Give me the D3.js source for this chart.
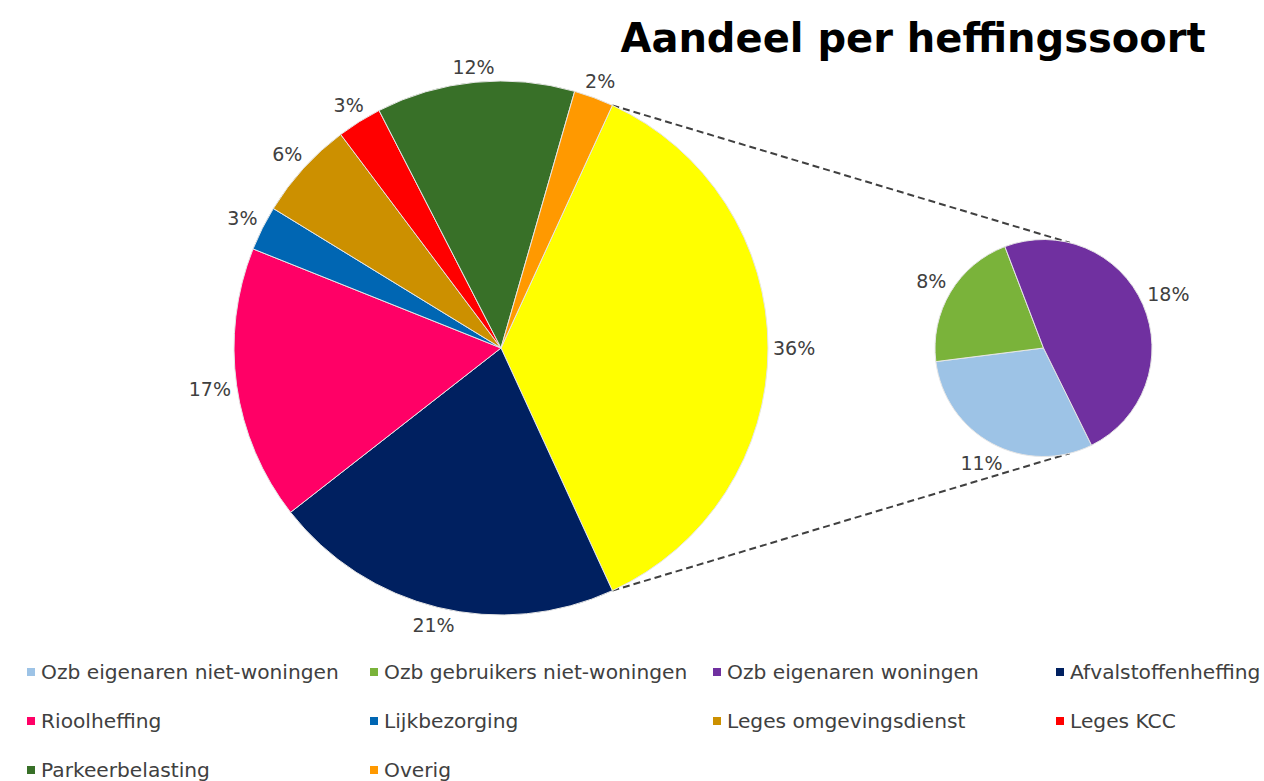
<!DOCTYPE html>
<html>
<head>
<meta charset="utf-8">
<script src="https://cdn.jsdelivr.net/npm/d3@7"></script>
<style>
  body { margin: 0; background: #fff; }
  svg text { font-family: "DejaVu Sans", Verdana, sans-serif; }
</style>
</head>
<body>
<div id="chart"></div>
<script>
const categories = ["Ozb eigenaren niet-woningen", "Ozb gebruikers niet-woningen", "Ozb eigenaren woningen",
    "Afvalstoffenheffing", "Rioolheffing", "Lijkbezorging", "Leges omgevingsdienst", "Leges KCC",
    "Parkeerbelasting", "Overig"];
const shares = [11.0, 7.7, 17.6, 21.3, 16.6, 2.7, 6.0, 2.7, 12.0, 2.4];
const colors = ["#9dc3e6", "#7ab33a", "#7030a0", "#002060", "#ff0066", "#0066b3", "#cc9000", "#ff0000", "#387028", "#ff9900"];
const otherColor = "#ffff00";
const splitCount = 3; // first three go into the small pie
const title = "Aandeel per heffingssoort";

const width = 1264;
const height = 781;
const mainCenter = [501, 348], mainRadius = 267;
const subCenter = [1043.5, 348], subRadius = 108.5;
const subStart = 153.7 * Math.PI / 180;
const connectorAngle = 14 * Math.PI / 180;
const labelSize = 19;

const svg = d3.select("#chart")
    .append("svg")
    .attr("width", width)
    .attr("height", height);

const items = categories.map((name, i) => ({ name: name, value: shares[i], color: colors[i] }));
const subItems = items.slice(0, splitCount);
const otherValue = d3.sum(subItems, d => d.value);
const mainItems = [{ name: "Ozb", value: otherValue, color: otherColor }].concat(items.slice(splitCount));
const total = d3.sum(items, d => d.value);

const otherAngle = otherValue / total * 2 * Math.PI;
const mainStart = Math.PI / 2 - otherAngle / 2;

const mainPie = d3.pie().sort(null).value(d => d.value)
    .startAngle(mainStart).endAngle(mainStart + 2 * Math.PI);
const subPie = d3.pie().sort(null).value(d => d.value)
    .startAngle(subStart).endAngle(subStart + 2 * Math.PI);

const mainArcs = mainPie(mainItems);
const subArcs = subPie(subItems);

// dashed connectors between the "other" slice and the small pie
const connectors = [
    [d3.pointRadial(mainArcs[0].startAngle, mainRadius), d3.pointRadial(connectorAngle, subRadius)],
    [d3.pointRadial(mainArcs[0].endAngle, mainRadius), d3.pointRadial(Math.PI - connectorAngle, subRadius)]
];
svg.selectAll(".connector")
    .data(connectors)
    .enter()
    .append("line")
    .attr("class", "connector")
    .attr("x1", d => mainCenter[0] + d[0][0])
    .attr("y1", d => mainCenter[1] + d[0][1])
    .attr("x2", d => subCenter[0] + d[1][0])
    .attr("y2", d => subCenter[1] + d[1][1])
    .attr("stroke", "#404040")
    .attr("stroke-width", 2)
    .attr("stroke-dasharray", "7,4");

function drawPie(arcs, center, radius) {
    const g = svg.append("g")
        .attr("transform", "translate(" + center[0] + "," + center[1] + ")");
    const arc = d3.arc().innerRadius(0).outerRadius(radius);

    g.selectAll("path")
        .data(arcs)
        .enter()
        .append("path")
        .attr("d", arc)
        .attr("fill", d => d.data.color)
        .attr("stroke", "#e6e6e6")
        .attr("stroke-width", 1);

    g.selectAll("text")
        .data(arcs)
        .enter()
        .append("text")
        .attr("text-anchor", "middle")
        .attr("dominant-baseline", "central")
        .style("font-size", labelSize + "px")
        .attr("fill", "#404040")
        .text(d => Math.round(d.data.value / total * 100) + "%")
        .each(function(d) {
            const mid = (d.startAngle + d.endAngle) / 2;
            const halfW = this.getComputedTextLength() / 2;
            const halfH = labelSize * 0.45;
            const dist = radius + 5 + halfW * Math.abs(Math.sin(mid)) + halfH * Math.abs(Math.cos(mid));
            const p = d3.pointRadial(mid, dist);
            d3.select(this).attr("x", p[0]).attr("y", p[1]);
        });
}

drawPie(mainArcs, mainCenter, mainRadius);
drawPie(subArcs, subCenter, subRadius);

// title
svg.append("text")
    .attr("x", 913)
    .attr("y", 52)
    .attr("text-anchor", "middle")
    .style("font-size", "40px")
    .style("font-weight", "bold")
    .attr("fill", "#000")
    .text(title);

// legend, 4 columns
const legendCols = 4;
const colWidth = 343;
const rowHeight = 49;
const legend = svg.selectAll(".legend")
    .data(items)
    .enter()
    .append("g")
    .attr("class", "legend")
    .attr("transform", (d, i) => "translate(" + (41 + (i % legendCols) * colWidth) + "," + (672 + Math.floor(i / legendCols) * rowHeight) + ")");

legend.append("rect")
    .attr("x", -14)
    .attr("y", -4)
    .attr("width", 8)
    .attr("height", 8)
    .attr("fill", d => d.color);

legend.append("text")
    .attr("x", 0)
    .attr("y", 0)
    .attr("dominant-baseline", "central")
    .style("font-size", "20.2px")
    .attr("fill", "#404040")
    .text(d => d.name);
</script>
</body>
</html>
